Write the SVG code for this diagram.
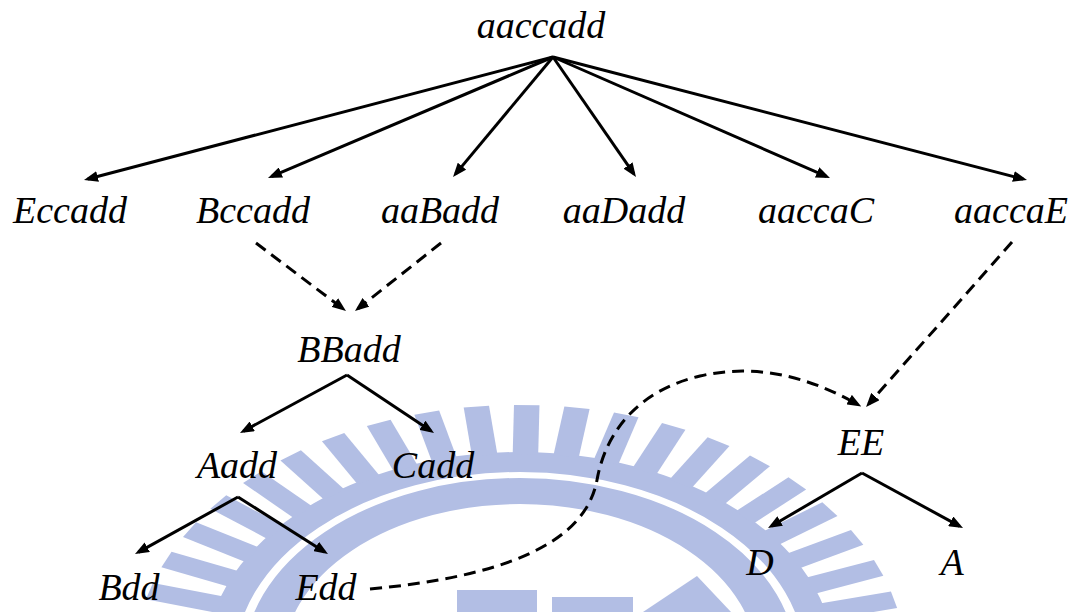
<svg xmlns="http://www.w3.org/2000/svg" xmlns:xlink="http://www.w3.org/1999/xlink" width="1078" height="612" viewBox="0 0 1078 612">
  <style>
    .lbl { font-family: "Liberation Serif", "Times New Roman", serif; font-style: italic; font-size: 38px; fill: #000; text-anchor: middle; }
    .solid { stroke: #000; stroke-width: 3; fill: none; marker-end: url(#ah); }
    .dash { stroke: #000; stroke-width: 3; fill: none; stroke-dasharray: 12 7; marker-end: url(#ah); }
    .wm { fill: #B2BEE4; }
    .wm-ring { fill: none; stroke: #B2BEE4; }
  </style>
  <defs>
    <marker id="ah" markerUnits="userSpaceOnUse" viewBox="0 0 14 11" markerWidth="14" markerHeight="11" refX="10" refY="5.5" orient="auto">
      <path d="M0,0 L14,5.5 L0,11 z" fill="#000"/>
    </marker>
    <rect id="tooth" class="wm" x="-8.5" y="-257" width="17" height="49"/>
  </defs>

  <rect width="1078" height="612" fill="#fff"/>

  <!-- background seal: toothed ring, inner band and central shapes (drawn widened) -->
  <g id="watermark">
    <g transform="translate(520,662) scale(1.5,1)">
      <circle class="wm-ring" r="200" stroke-width="20"/>
      <circle class="wm-ring" r="171" stroke-width="26"/>
      <use xlink:href="#tooth" transform="rotate(-81.5)"/>
      <use xlink:href="#tooth" transform="rotate(-74)"/>
      <use xlink:href="#tooth" transform="rotate(-66.5)"/>
      <use xlink:href="#tooth" transform="rotate(-59)"/>
      <use xlink:href="#tooth" transform="rotate(-51.5)"/>
      <use xlink:href="#tooth" transform="rotate(-44)"/>
      <use xlink:href="#tooth" transform="rotate(-36.5)"/>
      <use xlink:href="#tooth" transform="rotate(-29)"/>
      <use xlink:href="#tooth" transform="rotate(-21.5)"/>
      <use xlink:href="#tooth" transform="rotate(-14)"/>
      <use xlink:href="#tooth" transform="rotate(-6.5)"/>
      <use xlink:href="#tooth" transform="rotate(1)"/>
      <use xlink:href="#tooth" transform="rotate(8.5)"/>
      <use xlink:href="#tooth" transform="rotate(16)"/>
      <use xlink:href="#tooth" transform="rotate(23.5)"/>
      <use xlink:href="#tooth" transform="rotate(31)"/>
      <use xlink:href="#tooth" transform="rotate(38.5)"/>
      <use xlink:href="#tooth" transform="rotate(46)"/>
      <use xlink:href="#tooth" transform="rotate(53.5)"/>
      <use xlink:href="#tooth" transform="rotate(61)"/>
      <use xlink:href="#tooth" transform="rotate(68.5)"/>
      <use xlink:href="#tooth" transform="rotate(76)"/>
      <use xlink:href="#tooth" transform="rotate(83.5)"/>
    </g>
    <rect class="wm" x="457" y="590" width="80" height="22"/>
    <rect class="wm" x="552" y="597" width="81" height="15"/>
    <polygon class="wm" points="643,612 697,576 731,612"/>
  </g>

  <g id="connectors">
    <!-- root fan-out -->
    <line class="solid" x1="553" y1="57" x2="87.9" y2="179.0"/>
    <line class="solid" x1="553" y1="57" x2="271.7" y2="176.4"/>
    <line class="solid" x1="553" y1="57" x2="455.6" y2="173.9"/>
    <line class="solid" x1="553" y1="57" x2="633.7" y2="173.7"/>
    <line class="solid" x1="553" y1="57" x2="826.3" y2="176.4"/>
    <line class="solid" x1="553" y1="57" x2="1023.1" y2="179.0"/>
    <!-- merges into BBadd -->
    <line class="dash" x1="256" y1="243" x2="342.8" y2="308.6"/>
    <line class="dash" x1="441" y1="243" x2="358.1" y2="308.5"/>
    <!-- BBadd split -->
    <polyline class="solid" points="347,375 243.5,431.1"/>
    <polyline class="solid" points="347,375 430.7,430.8"/>
    <!-- Aadd split -->
    <polyline class="solid" points="238,497 138.5,552.1"/>
    <polyline class="solid" points="238,497 324.6,551.9"/>
    <!-- merges into EE -->
    <line class="dash" x1="1012" y1="242" x2="868.7" y2="404"/>
    <path class="dash" d="M370,589 C500,577 585,545 597,480 C606,430 640,390 700,376 C760,362 815,380 857.8,404.6"/>
    <!-- EE split -->
    <polyline class="solid" points="862,473 771.5,526.0"/>
    <polyline class="solid" points="862,473 959.5,526.1"/>
  </g>

  <g id="node-aaccadd"><text class="lbl" x="541" y="38">aaccadd</text></g>
  <g id="node-Eccadd"><text class="lbl" x="70" y="223">Eccadd</text></g>
  <g id="node-Bccadd"><text class="lbl" x="253" y="223">Bccadd</text></g>
  <g id="node-aaBadd"><text class="lbl" x="440" y="223">aaBadd</text></g>
  <g id="node-aaDadd"><text class="lbl" x="624" y="223">aaDadd</text></g>
  <g id="node-aaccaC"><text class="lbl" x="816" y="223">aaccaC</text></g>
  <g id="node-aaccaE"><text class="lbl" x="1011" y="223">aaccaE</text></g>
  <g id="node-BBadd"><text class="lbl" x="349" y="362">BBadd</text></g>
  <g id="node-Aadd"><text class="lbl" x="237" y="478">Aadd</text></g>
  <g id="node-Cadd"><text class="lbl" x="433" y="478">Cadd</text></g>
  <g id="node-EE"><text class="lbl" x="861" y="455">EE</text></g>
  <g id="node-Bdd"><text class="lbl" x="129" y="600">Bdd</text></g>
  <g id="node-Edd"><text class="lbl" x="326" y="600">Edd</text></g>
  <g id="node-D"><text class="lbl" x="760" y="575">D</text></g>
  <g id="node-A"><text class="lbl" x="952" y="575">A</text></g>
</svg>
